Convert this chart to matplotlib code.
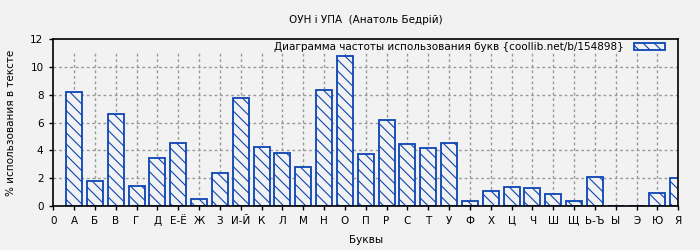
import matplotlib
matplotlib.use("Agg")
import matplotlib.pyplot as plt

letters = ["А", "Б", "В", "Г", "Д", "Е-Ё", "Ж", "З", "И-Й", "К", "Л", "М", "Н", "О", "П",
           "Р", "С", "Т", "У", "Ф", "Х", "Ц", "Ч", "Ш", "Щ", "Ь-Ъ", "Ы", "Э", "Ю", "Я"]
percent = [8.18, 1.77, 6.59, 1.44, 3.45, 4.51, 0.48, 2.35, 7.75, 4.22, 3.79, 2.81, 8.32, 10.79, 3.72,
           6.19, 4.44, 4.17, 4.51, 0.34, 1.06, 1.37, 1.27, 0.86, 0.34, 2.09, 0.0, 0.0, 0.91, 2.01]
yticks = [0, 2, 4, 6, 8, 10, 12]

bg = "#f2f2f2"
blue = "#0b45b5"
grid_c = "#999999"
fs = 7.5

plt.rcParams["font.family"] = "DejaVu Sans"
plt.rcParams["hatch.color"] = blue
plt.rcParams["hatch.linewidth"] = 0.8

fig = plt.figure(figsize=(7, 2.5), dpi=100, facecolor=bg)
ax = fig.add_axes([0.076, 0.176, 0.893, 0.667], facecolor=bg)

pos = list(range(1, len(letters) + 1))

# grid: horizontal full width, vertical only up to 11
for y in yticks[1:-1]:
    ax.axhline(y, color=grid_c, lw=1, ls=(0, (2, 2)), zorder=0)
ax.vlines(pos[:-1], 0, 11, color=grid_c, lw=1, ls=(0, (2, 2)), zorder=0)

ax.bar(pos, percent, width=0.77, facecolor=bg, edgecolor=blue, linewidth=1.3,
       hatch="\\\\\\", zorder=2,
       label="Диаграмма частоты использования букв {coollib.net/b/154898}")

ax.set_xlim(0, 30)
ax.set_ylim(0, 12)
ax.set_xticks([0] + pos)
ax.set_xticklabels(["0"] + letters, fontsize=fs)
ax.set_yticks(yticks)
ax.set_yticklabels([str(v) for v in yticks], fontsize=fs)
ax.tick_params(axis="both", direction="out", length=3, width=1, color="black", pad=4)

for s in ax.spines.values():
    s.set_color("black")
    s.set_linewidth(1.2)

ax.set_title("ОУН і УПА  (Анатоль Бедрій)", fontsize=fs, pad=12)
ax.set_xlabel("Буквы", fontsize=fs, labelpad=7)
ax.set_ylabel("% использования в тексте", fontsize=fs, labelpad=10)

leg = ax.legend(loc="upper right", bbox_to_anchor=(0.983, 1.0), frameon=False,
                fontsize=fs, markerfirst=False,
                handlelength=2.9, handleheight=0.6, borderaxespad=0.1,
                handletextpad=1.0, borderpad=0.2)

fig.savefig("out.png", dpi=100, facecolor=bg)
